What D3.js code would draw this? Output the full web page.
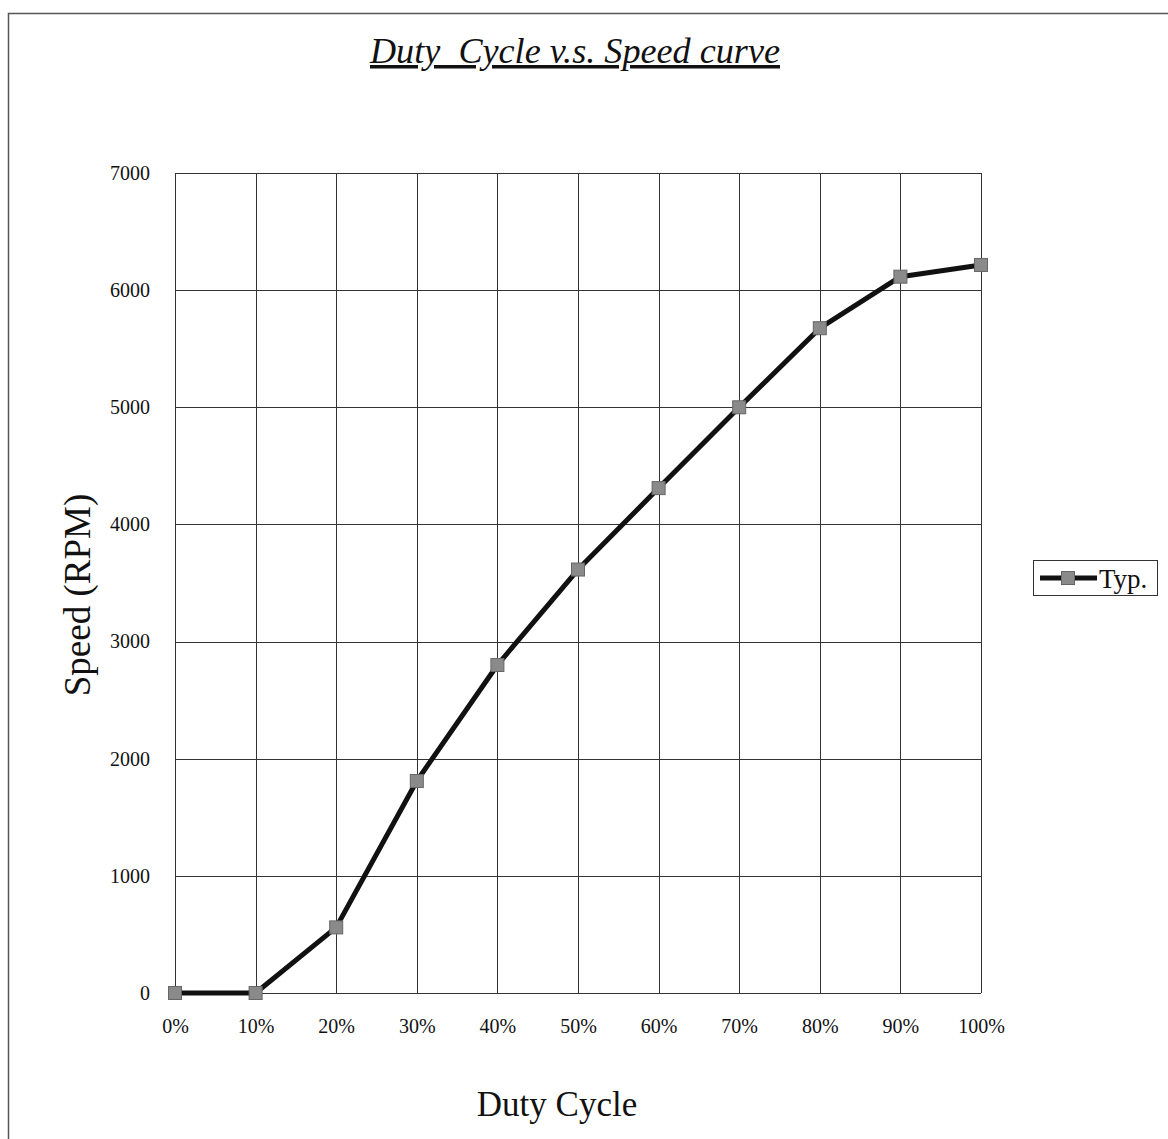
<!DOCTYPE html>
<html>
<head>
<meta charset="utf-8">
<script src="https://cdn.jsdelivr.net/npm/d3@7"></script>
<style>
  body { margin: 0; background: #fff; }
  text { font-family: "Liberation Serif", "DejaVu Serif", serif; fill: #111; }
</style>
</head>
<body>
<div id="chart"></div>
<script>
// data
var dutyCycle = [0, 10, 20, 30, 40, 50, 60, 70, 80, 90, 100];
var speedTyp = [0, 0, 560, 1810, 2800, 3615, 4310, 5000, 5675, 6115, 6215];
var yTicks = [0, 1000, 2000, 3000, 4000, 5000, 6000, 7000];
var seriesName = 'Typ.';

var W = 1168, H = 1139;
var margin = {left: 175, top: 173, right: 187, bottom: 146};
var width = W - margin.left - margin.right;
var height = H - margin.top - margin.bottom;

var svg = d3.select('#chart').append('svg')
  .attr('width', W)
  .attr('height', H);

// outer frame (runs off the right / bottom edge)
svg.append('rect')
  .attr('x', 8.5).attr('y', 13.5)
  .attr('width', W + 20).attr('height', H + 20)
  .attr('fill', 'none')
  .attr('style', 'stroke: #555; stroke-width: 1.5px');

var g = svg.append('g')
  .attr('transform', 'translate(' + margin.left + ',' + margin.top + ')');

var xScale = d3.scaleLinear().domain([0, 100]).range([0, width]);
var yScale = d3.scaleLinear().domain([0, 7000]).range([height, 0]);

// grid
g.append('g').selectAll('.hgrid')
  .data(yTicks).enter().append('line')
  .attr('class', 'hgrid')
  .attr('x1', 0).attr('x2', width)
  .attr('y1', d => Math.round(yScale(d)) + 0.5)
  .attr('y2', d => Math.round(yScale(d)) + 0.5)
  .attr('style', 'stroke: #333; stroke-width: 1px');

g.append('g').selectAll('.vgrid')
  .data(dutyCycle).enter().append('line')
  .attr('class', 'vgrid')
  .attr('x1', d => Math.round(xScale(d)) + 0.5)
  .attr('x2', d => Math.round(xScale(d)) + 0.5)
  .attr('y1', 0).attr('y2', height)
  .attr('style', 'stroke: #333; stroke-width: 1px');

// axes (labels only, no tick marks)
var yAxis = g.append('g')
  .call(d3.axisLeft(yScale).tickValues(yTicks).tickSize(0).tickPadding(25).tickFormat(d3.format('d')));
yAxis.select('.domain').remove();
yAxis.selectAll('text').style('font-size', '20px').attr('font-family', null);

var xAxis = g.append('g')
  .attr('transform', 'translate(0,' + height + ')')
  .call(d3.axisBottom(xScale).tickValues(dutyCycle).tickSize(0).tickPadding(26).tickFormat(d => d + '%'));
xAxis.select('.domain').remove();
xAxis.selectAll('text').style('font-size', '20px').attr('font-family', null);

// the series
var pts = dutyCycle.map((d, i) => ({x: d, y: speedTyp[i]}));
var line = d3.line().x(d => xScale(d.x)).y(d => yScale(d.y));

g.append('path')
  .datum(pts)
  .attr('d', line)
  .attr('fill', 'none')
  .attr('style', 'stroke: #111; stroke-width: 5px; stroke-linejoin: round');

var mk = 13;
g.append('g').selectAll('.mk')
  .data(pts).enter().append('rect')
  .attr('class', 'mk')
  .attr('x', d => xScale(d.x) - mk / 2)
  .attr('y', d => yScale(d.y) - mk / 2)
  .attr('width', mk).attr('height', mk)
  .attr('style', 'fill: #8a8a8a; stroke: #666; stroke-width: 1px');

// title
svg.append('text')
  .attr('x', 575).attr('y', 63)
  .attr('text-anchor', 'middle')
  .style('font-size', '35px')
  .style('font-style', 'italic')
  .style('text-decoration', 'underline')
  .style('white-space', 'pre')
  .attr('textLength', 410)
  .attr('lengthAdjust', 'spacingAndGlyphs')
  .text('Duty  Cycle v.s. Speed curve');

// axis titles
svg.append('text')
  .attr('transform', 'translate(90,' + (margin.top + height / 2 + 12) + ') rotate(-90)')
  .attr('text-anchor', 'middle')
  .style('font-size', '37px')
  .text('Speed (RPM)');

svg.append('text')
  .attr('x', 557).attr('y', 1116)
  .attr('text-anchor', 'middle')
  .style('font-size', '35px')
  .text('Duty Cycle');

// legend
var lg = svg.append('g').attr('transform', 'translate(1033,560)');
lg.append('rect')
  .attr('x', 0.5).attr('y', 0.5)
  .attr('width', 124).attr('height', 35)
  .attr('fill', '#fff')
  .attr('style', 'stroke: #333; stroke-width: 1px');
lg.append('line')
  .attr('x1', 7).attr('x2', 64)
  .attr('y1', 18).attr('y2', 18)
  .attr('style', 'stroke: #111; stroke-width: 5px');
lg.append('rect')
  .attr('x', 35 - mk / 2).attr('y', 18 - mk / 2)
  .attr('width', mk).attr('height', mk)
  .attr('style', 'fill: #8a8a8a; stroke: #666; stroke-width: 1px');
lg.append('text')
  .attr('x', 66).attr('y', 28)
  .style('font-size', '27px')
  .text(seriesName);
</script>
</body>
</html>
